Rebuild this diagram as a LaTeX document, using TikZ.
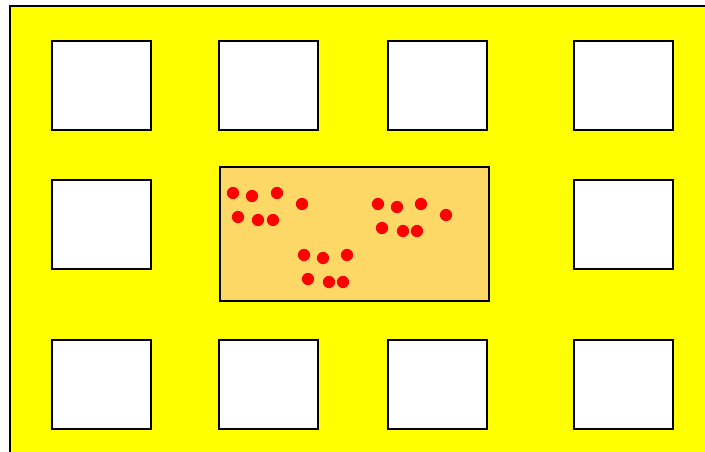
\documentclass[tikz,border=0pt]{standalone}
\usetikzlibrary{positioning}
\definecolor{hallfill}{RGB}{253,216,102}
\definecolor{floorfill}{RGB}{255,255,0}

\begin{document}
\begin{tikzpicture}[x=0.75pt,y=-0.75pt,
  room/.style={draw,line width=1.6pt,fill=white},
  thinroom/.style={draw,line width=0.9pt,fill=white},
  hall/.style={draw,line width=1.1pt,fill=hallfill},
  person/.style={fill=red}]
  \useasboundingbox (0,0) rectangle (705,452);
  % floor
  \fill[floorfill] (10,6) rectangle (705,452);
  \draw[line width=1.6pt] (10,452) -- (10,6) -- (705,6);
  % rooms
  \foreach \x/\y in {52/41,219/41,388/41,574/41,52/180,574/180,52/340,219/340,574/340}
    \draw[room] (\x,\y) rectangle +(99,89);
  \draw[thinroom] (388,340) rectangle +(99,89);
  % central hall with people
  \draw[hall] (220,167) rectangle (489,301);
  \foreach \x/\y in {233/193,252/196,277/193,302/204,238/217,258/220,273/220,
                     378/204,397/207,421/204,446/215,382/228,403/231,417/231,
                     304/255,323/258,347/255,308/279,329/282,343/282}
    \fill[person] (\x,\y) circle[radius=4.6pt];
\end{tikzpicture}
\end{document}
